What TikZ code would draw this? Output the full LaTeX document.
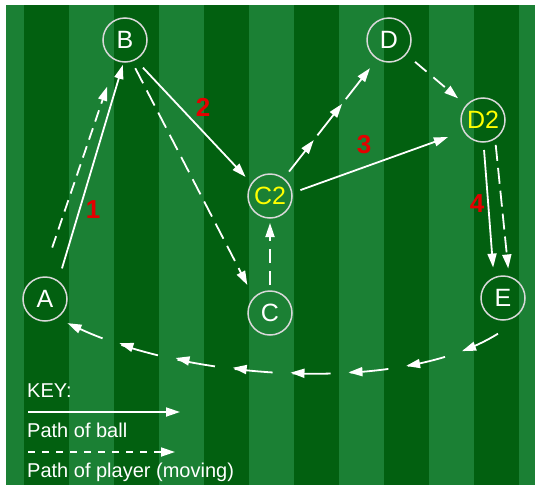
\documentclass[tikz,border=0pt]{standalone}
\usepackage{fontspec}
\setmainfont{Liberation Sans}
\usetikzlibrary{arrows.meta}
\usetikzlibrary{decorations.markings}

\definecolor{pitchlight}{RGB}{27,128,52}
\definecolor{pitchdark}{RGB}{2,96,16}
\definecolor{stepred}{RGB}{228,0,0}
\definecolor{movedyellow}{RGB}{255,255,0}

\begin{document}
\begin{tikzpicture}[x=1pt,y=-1pt,
  spot/.style={circle,draw=white!85!black,line width=1.5pt,minimum size=44pt,
    inner sep=0pt,text=white,font=\fontsize{25}{25}\selectfont},
  moved/.style={spot,text=movedyellow},
  stepno/.style={text=stepred,font=\fontsize{26}{26}\selectfont\bfseries},
  keytext/.style={anchor=base west,inner sep=0pt,text=white,font=\fontsize{20}{20}\selectfont},
  ball/.style={white,line width=1.8pt,-{Triangle[length=14pt,width=9pt]}},
  moving/.style={white,line width=1.8pt,dash pattern=on 14pt off 8pt,-{Triangle[length=14pt,width=9pt]}}]
        \useasboundingbox (0,0) rectangle (535,485);
        \fill[pitchlight] (6,5) rectangle (535,485);
        \foreach \x in {24,114,...,474} {
          \fill[pitchdark] (\x,5) rectangle (\x+45,485);
        }
        \foreach \n/\x/\y in {A/45/299, B/125/40, C/270/313, D/389/40, E/503/298} {
          \node[spot] (\n) at (\x,\y) {\n};
        }
        \node[moved] (C2) at (270,196) {C2};
        \node[moved] (D2) at (483,120) {D2};
        \node[stepno] (s1) at (93,210) {1};
        \node[stepno] (s2) at (203,107) {2};
        \node[stepno] (s3) at (364,145) {3};
        \node[stepno] (s4) at (477,204) {4};
        \draw[ball] ([shift={(61:35pt)}]A.center) -- ([shift={(265:25pt)}]B.center);
        \draw[moving,dash pattern=on 12pt off 7pt] ([shift={(82:52pt)}]A.center) -- ([shift={(249:50pt)}]B.center);
        \draw[ball] ([shift={(303:33pt)}]B.center) -- ([shift={(142:31pt)}]C2.center);
        \draw[moving,dash pattern=on 17pt off 8pt] ([shift={(290:30pt)}]B.center) -- ([shift={(129:36pt)}]C.center);
        \draw[moving] ([shift={(90:28pt)}]C.center) -- ([shift={(270:27pt)}]C2.center);
        \draw[moving,dash pattern=on 36pt off 10pt,postaction={decorate},
          decoration={markings,
            mark=at position 40pt with {\arrow{Triangle[length=14pt,width=9pt]}},
            mark=at position 86pt with {\arrow{Triangle[length=14pt,width=9pt]}}}]
          ([shift={(52:31pt)}]C2.center) -- ([shift={(236:34pt)}]D.center);
        \draw[ball] ([shift={(11:31pt)}]C2.center) -- ([shift={(206:39pt)}]D2.center);
        \draw[moving,dash pattern=on 15pt off 9pt] ([shift={(320:34pt)}]D.center) -- ([shift={(139:33pt)}]D2.center);
        \draw[ball] ([shift={(272:30pt)}]D2.center) -- ([shift={(108:32pt)}]E.center);
        \draw[moving,dash pattern=on 16pt off 7pt] ([shift={(297:28pt)}]D2.center) -- ([shift={(80:30pt)}]E.center);
        \draw[moving,dash pattern=on 38pt off 20pt,postaction={decorate},
          decoration={markings,
            mark=between positions 40pt and -30pt step 58pt with {\arrow{Triangle[length=14pt,width=9pt]}}}]
          ([shift={(262:36pt)}]E.center) .. controls (400,395) and (190,380) .. ([shift={(-47:33pt)}]A.center);
        \node[keytext] (keyhead) at (27,397) {KEY:};
        \coordinate (ballfrom) at (28,412);
        \coordinate (ballto) at (180,412);
        \draw[ball] (ballfrom) -- (ballto);
        \node[keytext] (balltext) at (27,437) {Path of ball};
        \coordinate (runfrom) at (28,452);
        \coordinate (runto) at (175,452);
        \draw[moving,dash pattern=on 7pt off 7pt] (runfrom) -- (runto);
        \node[keytext] (runtext) at (27,477) {Path of player (moving)};
\end{tikzpicture}
\end{document}
